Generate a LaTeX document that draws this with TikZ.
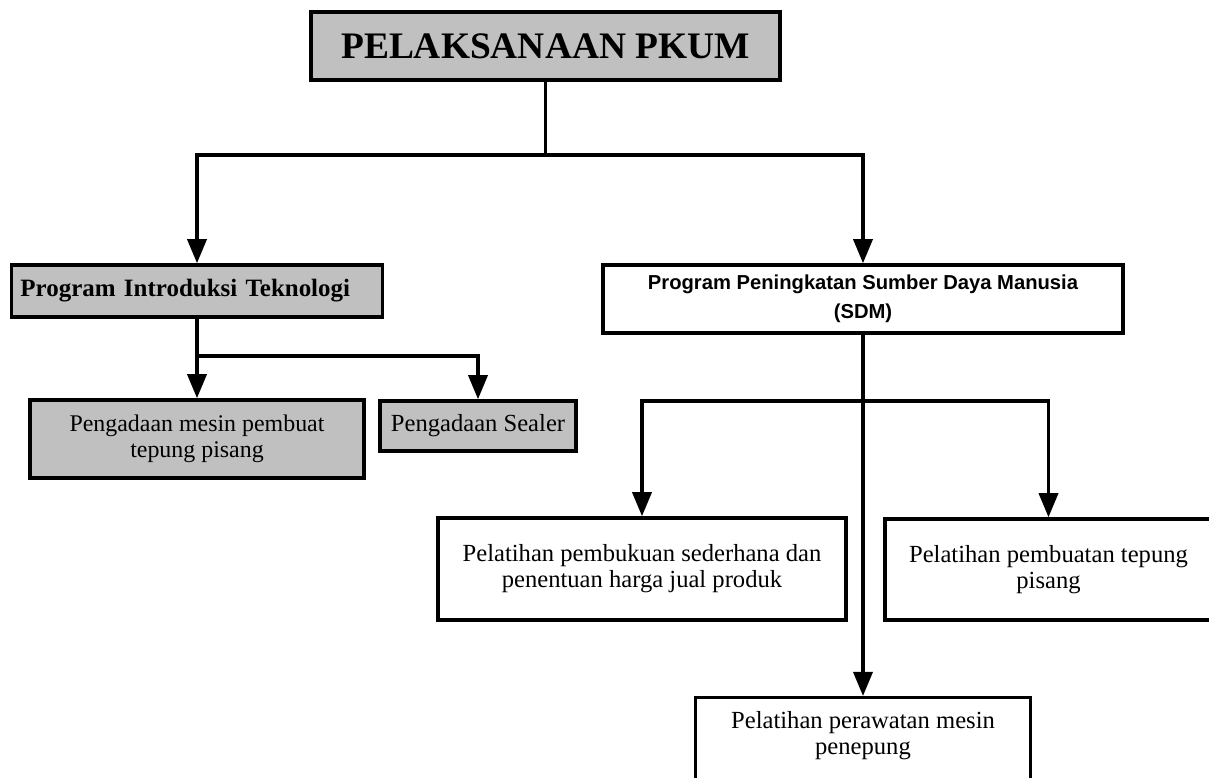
\documentclass[tikz,border=0pt]{standalone}
\usepackage{fontspec}
\setmainfont{Liberation Serif}
\setsansfont{Liberation Sans}
\usetikzlibrary{arrows.meta}
\definecolor{abu}{HTML}{C0C0C0}

\begin{document}
\begin{tikzpicture}[x=0.2mm, y=-0.2mm,
		blok/.style={rectangle, draw, line width=0.7mm, align=center, inner sep=1mm, font=\fontsize{14}{14.8}\selectfont},
		blokabu/.style={blok, fill=abu},
		garis/.style={line width=0.7mm},
		panah/.style={line width=0.7mm, -{Triangle[width=3.8mm, length=4.8mm]}}]
	\useasboundingbox (0,0) rectangle (1209,778);

	\node[blokabu, minimum width=93.8mm, minimum height=13.6mm, font=\fontsize{21.3}{24}\selectfont\bfseries] (top) at (545.5,46) {PELAKSANAAN PKUM};

	\node[blokabu, text width=70.6mm, inner xsep=1.8mm, align=left, minimum height=10.4mm, font=\fontsize{14.2}{15.5}\selectfont\bfseries] (pit) at (197,291) {Program Introduksi Teknologi};
	\node[blok, minimum width=104mm, minimum height=13.6mm, font=\sffamily\bfseries\fontsize{11.5}{13.8}\selectfont] (sdm) at (863,299) {Program Peningkatan Sumber Daya Manusia\\[1mm](SDM)};

	\node[blokabu, minimum width=66.8mm, minimum height=15.6mm, font=\fontsize{13.6}{14.5}\selectfont] (mesin) at (197,439) {Pengadaan mesin pembuat\\tepung pisang};
	\node[blokabu, minimum width=39.2mm, minimum height=10mm] (sealer) at (478,426) {Pengadaan Sealer};

	\node[blok, minimum width=81.6mm, minimum height=20.4mm] (buku) at (642,569) {Pelatihan pembukuan sederhana dan\\penentuan harga jual produk};
	\node[blok, minimum width=65.4mm, minimum height=20.2mm] (tepung) at (1048.5,569.5) {Pelatihan pembuatan tepung\\pisang};
	\node[blok, minimum width=67mm, anchor=north, inner ysep=2.8mm, text depth=14mm] (rawat) at (863,696) {Pelatihan perawatan mesin\\penepung};

	\coordinate (j1) at (545.5,155);
	\coordinate (j2) at (197,356);
	\coordinate (j3) at (863,401);

	% cabang utama
	\draw[garis] (top) -- (j1);
	\draw[panah] (j1) -| (pit);
	\draw[panah] (j1) -| (sdm);

	% teknologi
	\draw[panah] (pit) -- (mesin);
	\draw[panah] (j2) -| (sealer);

	% SDM
	\draw[panah] (sdm) -- (rawat);
	\draw[panah] (j3) -| (buku);
	\draw[panah] (j3) -| (tepung);
\end{tikzpicture}
\end{document}
